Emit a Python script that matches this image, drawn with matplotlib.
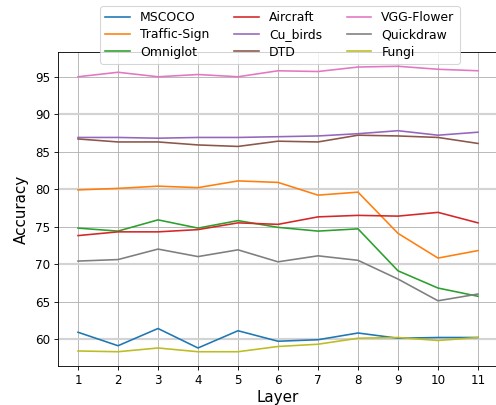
import matplotlib
matplotlib.use("Agg")
import matplotlib.pyplot as plt
from matplotlib.ticker import MultipleLocator

layers = [1, 2, 3, 4, 5, 6, 7, 8, 9, 10, 11]

mscoco = [60.9, 59.1, 61.4, 58.8, 61.1, 59.7, 59.9, 60.8, 60.1, 60.2, 60.2]
traffic_sign = [79.9, 80.1, 80.4, 80.2, 81.1, 80.9, 79.2, 79.6, 74.1, 70.8, 71.8]
omniglot = [74.8, 74.4, 75.9, 74.8, 75.8, 74.9, 74.4, 74.7, 69.1, 66.8, 65.7]
aircraft = [73.8, 74.3, 74.3, 74.6, 75.5, 75.3, 76.3, 76.5, 76.4, 76.9, 75.5]
cu_birds = [86.9, 86.9, 86.8, 86.9, 86.9, 87.0, 87.1, 87.4, 87.8, 87.2, 87.6]
dtd = [86.7, 86.3, 86.3, 85.9, 85.7, 86.4, 86.3, 87.2, 87.1, 86.9, 86.1]
vgg_flower = [95.0, 95.6, 95.0, 95.3, 95.0, 95.8, 95.7, 96.3, 96.4, 96.0, 95.8]
quickdraw = [70.4, 70.6, 72.0, 71.0, 71.9, 70.3, 71.1, 70.5, 68.0, 65.1, 66.0]
fungi = [58.4, 58.3, 58.8, 58.3, 58.3, 59.0, 59.3, 60.1, 60.2, 59.8, 60.2]

series = [
    ("MSCOCO", mscoco),
    ("Traffic-Sign", traffic_sign),
    ("Omniglot", omniglot),
    ("Aircraft", aircraft),
    ("Cu_birds", cu_birds),
    ("DTD", dtd),
    ("VGG-Flower", vgg_flower),
    ("Quickdraw", quickdraw),
    ("Fungi", fungi),
]


def main():
    fig = plt.figure(figsize=(6.4, 405 / 77.5), dpi=77.5)
    ax = fig.add_axes([58 / 496, 39 / 405, 440 / 496, 314 / 405])

    for name, values in series:
        ax.plot(layers, values, label=name)

    ax.set_xticks(layers)
    ax.set_xlim(0.5, 11.5)
    # lighter, thicker lines every 10 on top of the normal grid
    ax.yaxis.set_minor_locator(MultipleLocator(10))
    ax.yaxis.remove_overlapping_locs = False
    ax.tick_params(axis='both', which='major', labelsize=11)
    ax.tick_params(axis='y', which='minor', length=0)
    ax.grid(True, which='major')
    ax.yaxis.grid(True, which='minor', color='#d3d3d3', linewidth=2)

    ax.set_xlabel('Layer', fontsize=14, labelpad=3)
    ax.set_ylabel('Accuracy', fontsize=14, labelpad=6)

    ax.legend(loc='upper center', ncol=3, bbox_to_anchor=(280 / 496, 1.0),
              bbox_transform=fig.transFigure, framealpha=0.8, fontsize=11.5,
              labelspacing=0.35)

    fig.savefig("out.png", dpi=77.5)


if __name__ == "__main__":
    main()
